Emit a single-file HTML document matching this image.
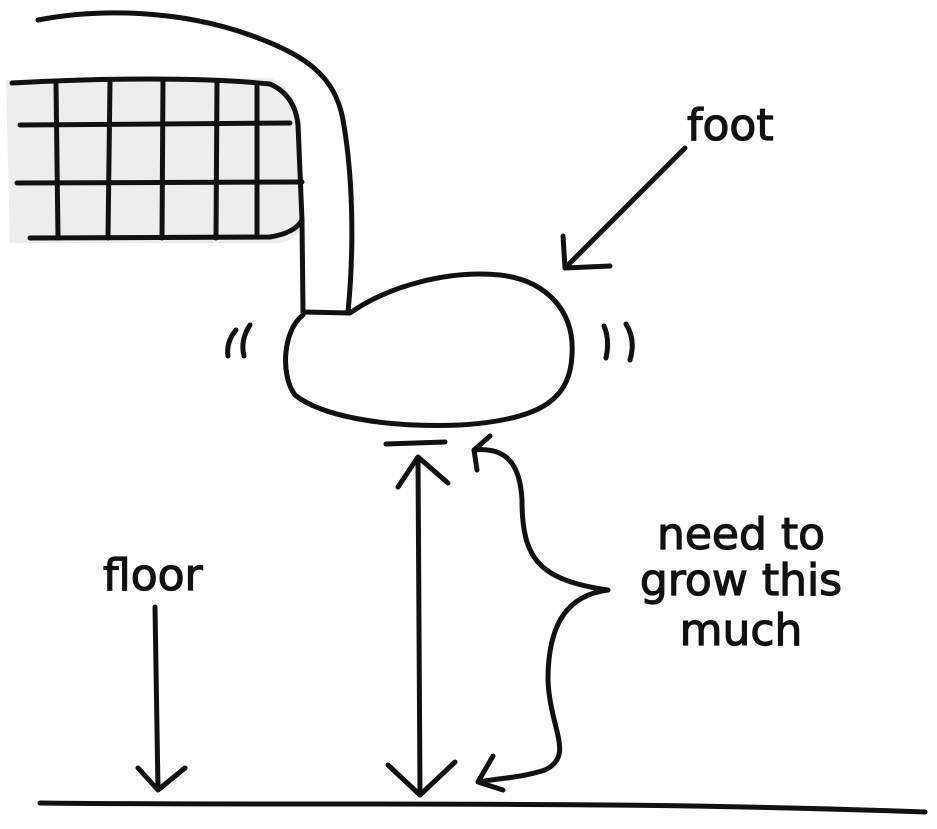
<!DOCTYPE html>
<html><head><style>
html,body{margin:0;padding:0;background:#fff;}
svg{display:block;}
text{font-family:"DejaVu Sans","Liberation Sans",sans-serif;fill:#111;stroke:#111;stroke-width:1.2;}
</style></head><body>
<svg width="937" height="829" viewBox="0 0 937 829" xmlns="http://www.w3.org/2000/svg">
<g fill="none" stroke="#111" stroke-width="5" stroke-linecap="round" stroke-linejoin="round">
<path d="M6,80 L270,78 Q300,90 302,130 L303,225 Q295,245 270,243 L10,243 Z" fill="#ededed" stroke="none"/>
<path d="M12,83 C100,78 200,77 270,84 Q295,95 298,125 L302,220"/>
<path d="M20,125 L290,123"/>
<path d="M17,183 L302,182"/>
<path d="M30,238 L270,237 Q295,233 302,220"/>
<path d="M56,84 L58,238 M110,82 L108,238 M163,80 L162,238 M217,82 L216,238 M257,86 L257,237"/>
<path d="M38,20 C100,8 180,10 250,35 C305,55 335,75 343,120 C352,170 355,240 348,312"/>
<path d="M302,220 L303,312 L350,313"/>
<path d="M350,313 C390,285 450,270 500,275 C545,280 575,310 572,355 C570,400 540,420 460,425 C380,428 320,415 295,395 C280,375 283,330 303,315"/>
<path d="M236,330 Q226,342 228,356 M250,325 Q240,340 244,356"/>
<path d="M604,326 Q610,340 606,358 M626,324 Q636,340 630,360"/>
<path d="M386,444 L445,442"/>
<path d="M418,457 L420,795 M398,487 L418,457 L448,483 M388,765 L420,795 L455,762"/>
<path d="M40,803 C300,806 600,800 925,812"/>
<path d="M155,607 L158,790 M138,768 L158,790 L185,768"/>
<path d="M685,148 L565,268 M563,236 L565,268 L610,266"/>
<path d="M477,470 L474,450 L490,436 M474,450 C505,447 520,462 522,500 C522,560 540,580 608,590 C570,595 548,620 548,680 C550,730 575,755 545,770 C520,778 500,778 478,782 M493,756 L478,782 L503,790"/>
</g>
<text x="687" y="140" font-size="44">foot</text>
<text x="103" y="590" font-size="44">floor</text>
<text x="741" y="549" font-size="44" text-anchor="middle">need to</text>
<text x="741" y="595" font-size="44" text-anchor="middle">grow this</text>
<text x="741" y="645" font-size="44" text-anchor="middle">much</text>
</svg>
</body></html>
